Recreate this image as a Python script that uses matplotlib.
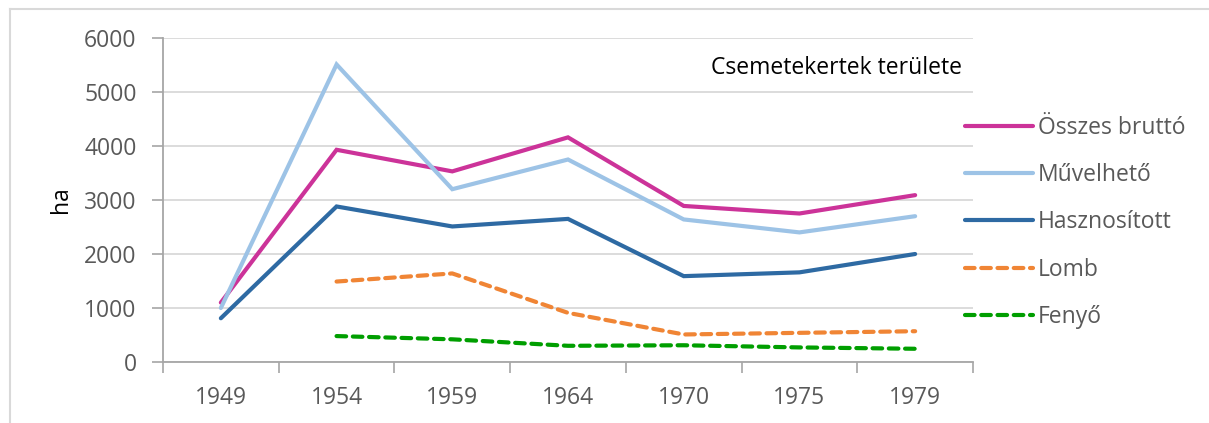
import matplotlib.pyplot as plt
from matplotlib.lines import Line2D

plt.rcParams['font.family'] = ['Open Sans', 'DejaVu Sans']

years = ['1949', '1954', '1959', '1964', '1970', '1975', '1979']
osszes = [1100, 3930, 3530, 4160, 2890, 2750, 3090]
muvelheto = [1000, 5510, 3200, 3750, 2640, 2400, 2700]
hasznositott = [810, 2880, 2510, 2650, 1590, 1660, 2000]
lomb = [None, 1490, 1640, 910, 510, 540, 570]
fenyo = [None, 480, 420, 300, 310, 270, 245]

series = [
    ('Összes bruttó', osszes, '#CC3399', 'solid'),
    ('Művelhető', muvelheto, '#9DC3E6', 'solid'),
    ('Hasznosított', hasznositott, '#2E6AA3', 'solid'),
    ('Lomb', lomb, '#F08535', 'dashed'),
    ('Fenyő', fenyo, '#009E00', 'dashed'),
]

FS = 16.5
W, H = 1209, 423
fig = plt.figure(figsize=(W / 100, H / 100), dpi=100)
ax = fig.add_axes([163 / W, 1 - 362 / H, 810 / W, 324 / H])

x = list(range(len(years)))
handles = []
for name, vals, color, style in series:
    xs = [i for i, v in zip(x, vals) if v is not None]
    ys = [v for v in vals if v is not None]
    if style == 'dashed':
        ln, = ax.plot(xs, ys, color=color, lw=3, dashes=(2.3, 1.6),
                      dash_capstyle='round', solid_capstyle='round')
    else:
        ln, = ax.plot(xs, ys, color=color, lw=3, solid_capstyle='round',
                      solid_joinstyle='miter')
    handles.append(ln)

ax.set_xlim(-0.5, len(years) - 0.5)
ax.set_ylim(0, 6000)
ax.set_yticks(range(0, 6001, 1000))
ax.set_xticks(x)
ax.set_xticklabels(years)
ax.set_xticks([i - 0.5 for i in range(len(years) + 1)], minor=True)
ax.tick_params(axis='x', which='major', length=0, pad=17, labelsize=FS,
               labelcolor='#595959')
ax.tick_params(axis='x', which='minor', length=8, color='#A6A6A6', width=1.2)
ax.tick_params(axis='y', length=8, color='#A6A6A6', width=1.2, pad=11,
               labelsize=FS, labelcolor='#595959')
ax.grid(axis='y', color='#D9D9D9', lw=1.3)
ax.set_axisbelow(True)
for s in ['top', 'right']:
    ax.spines[s].set_visible(False)
for s in ['left', 'bottom']:
    ax.spines[s].set_color('#A6A6A6')
    ax.spines[s].set_linewidth(1.3)

ax.set_ylabel('ha', fontsize=FS, color='black', labelpad=8)

ax.text(962 / W, 1 - 68 / H, 'Csemetekertek területe', transform=fig.transFigure,
        ha='right', va='center', fontsize=FS, color='black')

leg = fig.legend(handles, [s[0] for s in series], loc='upper left',
                 bbox_to_anchor=(944 / W, 1 - 95 / H), frameon=False,
                 fontsize=FS, labelcolor='#595959', handlelength=3.0,
                 handletextpad=0.2, labelspacing=1.02)

# outer chart border
fig.add_artist(Line2D([10 / W, 1], [1 - 9 / H, 1 - 9 / H], color='#D9D9D9', lw=1.5,
                      transform=fig.transFigure))
fig.add_artist(Line2D([10 / W, 10 / W], [0, 1 - 9 / H], color='#D9D9D9', lw=1.5,
                      transform=fig.transFigure))

fig.savefig('out.png', dpi=100)
